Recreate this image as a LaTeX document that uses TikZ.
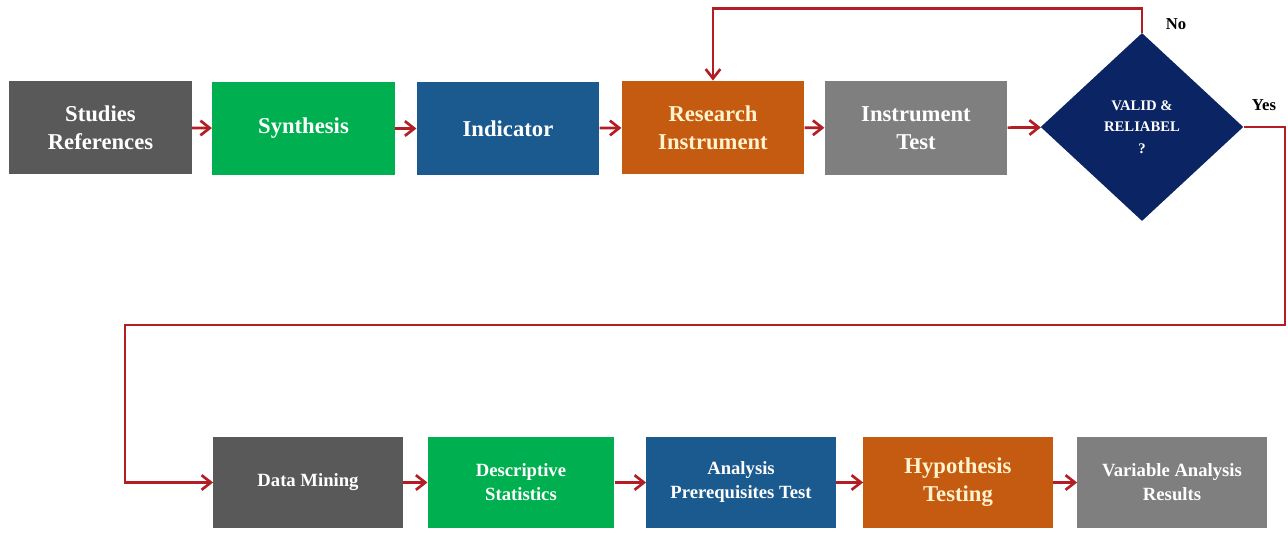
\documentclass[tikz,border=0pt]{standalone}
\usepackage{fontspec}
\setmainfont{Liberation Serif}
\usetikzlibrary{arrows.meta}
\usetikzlibrary{shapes.geometric}
\usetikzlibrary{positioning}

\definecolor{boxdark}{RGB}{89,89,89}
\definecolor{boxgreen}{RGB}{0,176,80}
\definecolor{boxblue}{RGB}{27,90,142}
\definecolor{boxorange}{RGB}{197,90,17}
\definecolor{boxgray}{RGB}{127,127,127}
\definecolor{boxnavy}{RGB}{11,36,99}
\definecolor{arrowred}{RGB}{178,30,35}
\definecolor{cream}{RGB}{255,242,204}

\begin{document}
\begin{tikzpicture}[x=0.75pt, y=-0.75pt,
				stepbox/.style={rectangle, inner sep=2pt, align=center, text=white,
					minimum width=137pt, minimum height=70pt,
					font=\fontsize{17}{21}\selectfont\bfseries},
				lowbox/.style={stepbox, minimum width=142pt, minimum height=68pt,
					font=\fontsize{14}{18}\selectfont\bfseries},
				decision/.style={diamond, inner sep=0pt, align=center, text=white,
					minimum width=152pt, minimum height=141pt,
					font=\fontsize{11}{16}\selectfont\bfseries},
				flow/.style={draw=arrowred, line width=2pt,
					-{Straight Barb[length=7pt, width=11pt]}},
				flowlabel/.style={font=\fontsize{12.5}{15}\selectfont\bfseries},
				]
				\useasboundingbox (0,0) rectangle (1288,532);

				% Nodes, top row
				\node[stepbox, fill=boxdark] (studies) at (100.5,127.5) {Studies\\References};
				\node[stepbox, fill=boxgreen] (synth) at (303.5,128.5) {Synthesis};
				\node[stepbox, fill=boxblue] (indic) at (508,128.5) {Indicator};
				\node[stepbox, fill=boxorange, text=cream] (resinst) at (713,127.5) {Research\\Instrument};
				\node[stepbox, fill=boxgray] (insttest) at (916,128) {Instrument\\Test};
				\node[decision, fill=boxnavy] (valid) at (1142,127) {VALID \&\\RELIABEL\\?};

				% Nodes, bottom row
				\node[lowbox, fill=boxdark] (mining) at (308,482.5) {Data Mining};
				\node[lowbox, fill=boxgreen, minimum width=140pt] (descr) at (521,482.5) {Descriptive\\Statistics};
				\node[lowbox, fill=boxblue] (prereq) at (741,482.5) {Analysis\\Prerequisites Test};
				\node[lowbox, fill=boxorange, text=cream,
					font=\fontsize{17}{21}\selectfont\bfseries] (hypo) at (958,482.5) {Hypothesis\\Testing};
				\node[lowbox, fill=boxgray] (results) at (1172,482.5) {Variable Analysis\\Results};

				% Turning points
				\coordinate (yesturn) at (1285,325);
				\coordinate (downturn) at (125,325);

				% Arrows
				\draw[flow] (studies) -- (synth);
				\draw[flow] (synth) -- (indic);
				\draw[flow] (indic) -- (resinst);
				\draw[flow] (resinst) -- (insttest);
				\draw[flow] (insttest) -- (valid);
				\draw[flow] (valid.north) -- ++(0,-24) -| (resinst.north);
				\draw[flow] (valid.east) -| (yesturn) -- (downturn) |- (mining.west);
				\draw[flow] (mining) -- (descr);
				\draw[flow] (descr) -- (prereq);
				\draw[flow] (prereq) -- (hypo);
				\draw[flow] (hypo) -- (results);

				% Labels
				\node[flowlabel] (no) at (1176,24) {No};
				\node[flowlabel] (yes) at (1264,105) {Yes};
			\end{tikzpicture}
\end{document}
